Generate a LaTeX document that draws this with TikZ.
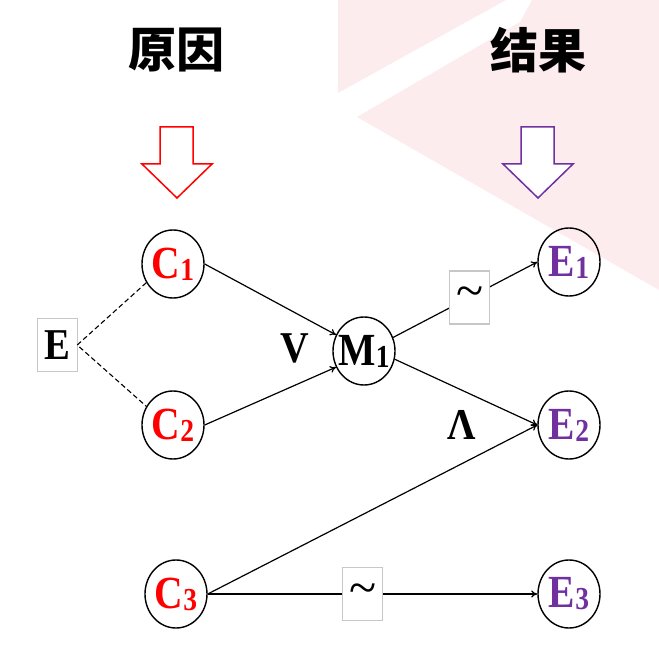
\documentclass[tikz,border=0pt]{standalone}
\usepackage{graphicx}
\usepackage{fontspec}
\setmainfont{Liberation Serif}
\newfontfamily\cjk{Noto Sans CJK SC}
\usetikzlibrary{shapes.geometric,arrows.meta}
\definecolor{wmpink}{RGB}{252,236,238}
\definecolor{effpurple}{RGB}{112,48,160}
\newcommand{\idx}[1]{\raisebox{-2pt}{\fontsize{32}{32}\selectfont #1}}
\newcommand{\lab}[2]{\makebox[40pt]{\scalebox{0.86}[1]{#1\idx{#2}}}}
\tikzset{
  event/.style={ellipse,draw,line width=1.4pt,minimum width=62pt,minimum height=68pt,inner sep=0pt,
    font=\bfseries\fontsize{46}{46}\selectfont},
  tildebox/.style={draw=black!22,fill=white,minimum width=40pt,minimum height=53pt,inner sep=0pt,
    font=\fontsize{50}{50}\selectfont},
  link/.style={line width=1.2pt,-{To[length=6pt,width=7pt]}},
  opword/.style={font=\bfseries\fontsize{44}{44}\selectfont},
  title/.style={font=\cjk\bfseries\fontsize{48}{48}\selectfont},
}

\begin{document}
\begin{tikzpicture}[x=1pt,y=-1pt]
  \useasboundingbox (0,0) rectangle (659,650);
  \fill[wmpink] (338,0) -- (338,93) -- (506,0) -- cycle;
  \fill[wmpink] (357,117) -- (520,22) -- (532,0) -- (659,0) -- (659,290) -- cycle;

  \node[title] (cause) at (176,50) {原因};
  \node[title] (effect) at (538,50) {结果};
  \foreach \xs/\col in {0/red,361/effpurple}
    \draw[shift={(\xs,0)},draw=\col,line width=1.5pt,fill=white]
      (160,127) -- (193,127) -- (193,164) -- (212,164) -- (177,198) -- (142,164) -- (160,164) -- cycle;

  \node[event,text=red] (C1) at (173,264) {\lab{C}{1}};
  \node[event,text=red] (C2) at (173,425) {\lab{C}{2}};
  \node[event,text=red] (C3) at (176,594) {\lab{C}{3}};
  \node[event] (M1) at (364,351) {\lab{M}{1}};
  \foreach \i/\y in {1/262,2/425,3/594}
    \node[event,text=effpurple] (E\i) at (569,\y) {\lab{E}{\i}};

  \node[tildebox,font=\bfseries\fontsize{44}{44}\selectfont] (Ebox) at (57,345) {\scalebox{0.88}[1]{E}};
  \node[opword] (vee) at (295,348) {\scalebox{0.9}[1]{V}};
  \node[opword] (wedge) at (462,425) {\scalebox{0.9}[1]{Λ}};

  \draw[dashed,dash pattern=on 5pt off 3pt,line width=1.1pt] (C1.215) -- (Ebox.east) -- (C2.145);
  \draw[link] (C1.east) -- (M1.150);
  \draw[link] (C2.east) -- (M1.210);
  \draw[link] (M1.25) -- node[tildebox,pos=0.53] (sim1) {\textasciitilde} (E1.west);
  \draw[link] (M1.-15) -- (E2.west);
  \draw[link] (C3.east) -- (E2.west);
  \draw[link] (C3.east) -- node[tildebox,pos=0.47] (sim2) {\textasciitilde} (E3.west);
\end{tikzpicture}
\end{document}
